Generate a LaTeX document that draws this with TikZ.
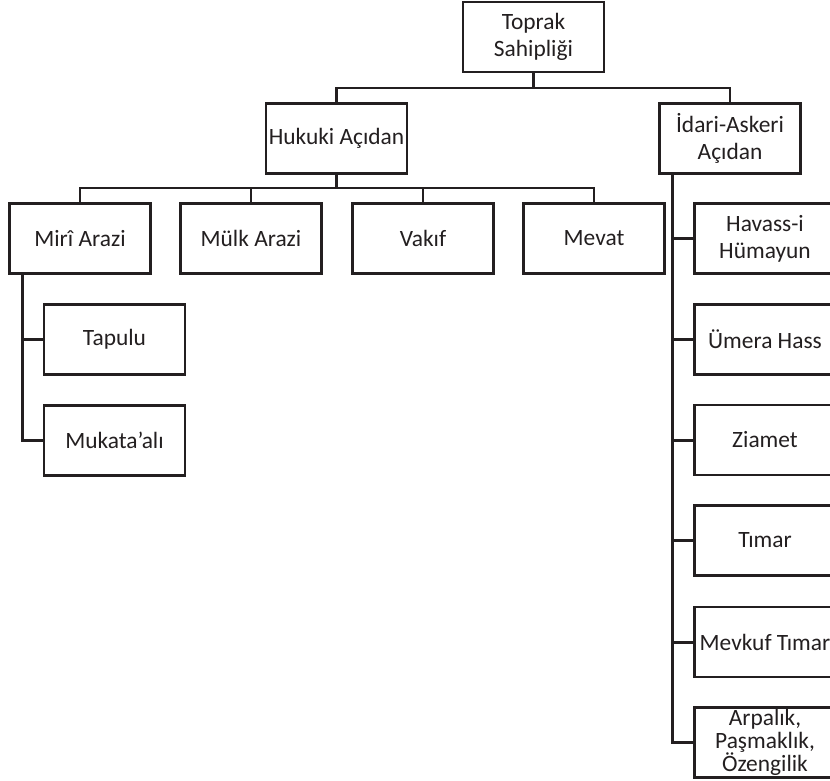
\documentclass[tikz,border=0pt]{standalone}
\usepackage{fontspec}
\setmainfont{Carlito}
\definecolor{ink}{RGB}{35,31,32}
\begin{document}
\begin{tikzpicture}[x=1pt,y=-1pt,
  box/.style={draw=ink,text=ink,line width=2.4pt,minimum width=141pt,minimum height=70pt,inner sep=0pt,align=center,font=\fontsize{23.4}{27}\selectfont},
  tightbox/.style={box,font=\fontsize{23.4}{22.5}\selectfont},
  conn/.style={draw=ink,line width=2.4pt},
  trunk/.style={draw=ink,line width=3pt}]
\clip (0,0) rectangle (830,781);
\fill[white] (0,0) rectangle (830,781);
% nodes
\node[box] (top) at (533.5,37) {Toprak\\Sahipliği};
\node[box] (hukuki) at (336.5,138.5) {Hukuki Açıdan};
\node[box] (idari) at (730,138.5) {İdari-Askeri\\Açıdan};
\node[box] (miri) at (80,238.5) {Mirî Arazi};
\node[box] (mulk) at (251,238.5) {Mülk Arazi};
\node[box] (vakif) at (423,238.5) {Vakıf};
\node[box] (mevat) at (594,238.5) {Mevat};
\node[box] (tapulu) at (114.5,339.5) {Tapulu};
\node[box] (mukata) at (114.5,440.5) {Mukata{\char"0027}alı};
\node[box] (havass) at (765,238.5) {Havass-i\\Hümayun};
\node[box] (umera) at (765,339.5) {Ümera Hass};
\node[box] (ziamet) at (765,440) {Ziamet};
\node[box] (timar) at (765,540.5) {Tımar};
\node[box] (mevkuf) at (765,642) {Mevkuf Tımar};
\node[tightbox] (arpalik) at (765,742.5) {Arpalık,\\Paşmaklık,\\Özengilik};
% junctions
\coordinate (j1) at (533.5,88);
\coordinate (j2) at (336.5,188);
\coordinate (mt) at ([xshift=14pt]miri.south west);
\coordinate (it) at ([xshift=14pt]idari.south west);
% connectors
\draw[conn] (top.south) -- (j1);
\draw[conn] (hukuki.north) |- (j1) -| (idari.north);
\draw[conn] (hukuki.south) -- (j2);
\draw[conn] (miri.north) |- (j2) -| (mevat.north);
\draw[conn] (mulk.north) -- (mulk.north |- j2);
\draw[conn] (vakif.north) -- (vakif.north |- j2);
\draw[conn] (mt) |- (tapulu.west);
\draw[conn] (mt) |- (mukata.west);
\draw[trunk] (it) |- (havass.west);
\draw[trunk] (it) |- (umera.west);
\draw[trunk] (it) |- (ziamet.west);
\draw[trunk] (it) |- (timar.west);
\draw[trunk] (it) |- (mevkuf.west);
\draw[trunk] (it) |- (arpalik.west);
\end{tikzpicture}
\end{document}
